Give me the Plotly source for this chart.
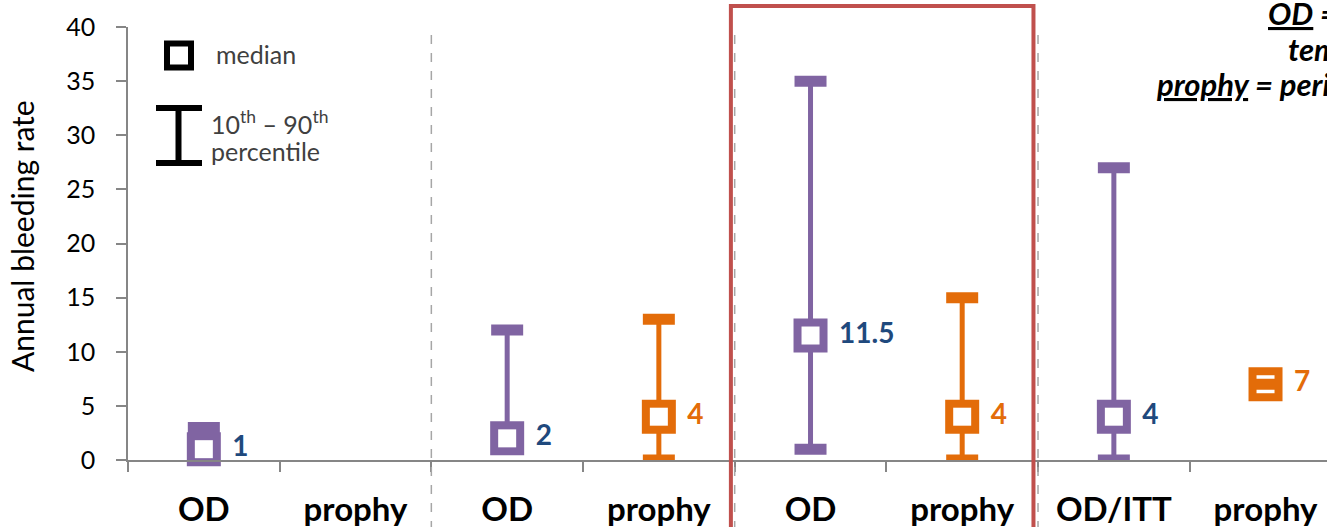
import plotly.graph_objects as go

# ---------------- data ----------------
categories = ["OD", "prophy", "OD", "prophy", "OD", "prophy", "OD/ITT", "prophy"]

od_pos = [0, 2, 4, 6]
od_median = [1, 2, 11.5, 4]
od_p10 = [0, 1, 1, 0]
od_p90 = [3, 12, 35, 27]
od_labels = ["1", "2", "11.5", "4"]

pr_pos = [3, 5, 7]
pr_median = [4, 4, 7]
pr_p10 = [0, 0, 7]
pr_p90 = [13, 15, 7]
pr_labels = ["4", "4", "7"]

y_ticks = [0, 5, 10, 15, 20, 25, 30, 35, 40]

# ---------------- style ----------------
PURPLE = "#8064A2"
ORANGE = "#E36C09"
BLUE_TXT = "#1F497D"
RED = "#C0504D"
AXIS = "#868686"
FONT = "Lato"

W, H = 1327, 527
ML, MR, MT, MB = 128, 0, 27, 67
PW = W - ML - MR
PH = H - MT - MB
CAT_PX = 151.67
CAP_HALF = 16 / CAT_PX  # half cap width in category units


def px2x(px):
    return (px - ML) / PW


def px2y(py):
    return (H - MB - py) / PH


fig = go.Figure()


def whisker_xy(pos, lo, hi):
    xs, ys = [], []
    for p, a, b in zip(pos, lo, hi):
        xs += [p, p, None]
        ys += [a, b, None]
    return xs, ys


def cap_xy(pos, vals):
    xs, ys = [], []
    for p, v in zip(pos, vals):
        xs += [p - CAP_HALF, p + CAP_HALF, None]
        ys += [v, v, None]
    return xs, ys


series = [
    (od_pos, od_median, od_p10, od_p90, od_labels, PURPLE, BLUE_TXT),
    (pr_pos, pr_median, pr_p10, pr_p90, pr_labels, ORANGE, ORANGE),
]


def add_caps(pos, vals, col):
    xs, ys = cap_xy(pos, vals)
    fig.add_trace(go.Scatter(x=xs, y=ys, mode="lines",
                             line=dict(color=col, width=11),
                             hoverinfo="skip", showlegend=False, cliponaxis=False))


# whiskers
for pos, med, lo, hi, lab, col, tcol in series:
    xs, ys = whisker_xy(pos, lo, hi)
    fig.add_trace(go.Scatter(x=xs, y=ys, mode="lines",
                             line=dict(color=col, width=5),
                             hoverinfo="skip", showlegend=False, cliponaxis=False))
# lower caps
for pos, med, lo, hi, lab, col, tcol in series:
    add_caps(pos, lo, col)
# medians (coloured frame + white interior)
for pos, med, lo, hi, lab, col, tcol in series:
    fig.add_trace(go.Scatter(x=pos, y=med, mode="markers",
                             marker=dict(symbol="square", size=34, color=col,
                                         line=dict(width=0)),
                             showlegend=False, cliponaxis=False))
    fig.add_trace(go.Scatter(x=pos, y=med, mode="markers",
                             marker=dict(symbol="square", size=18, color="white",
                                         line=dict(width=0)),
                             hoverinfo="skip", showlegend=False, cliponaxis=False))
# upper caps
for pos, med, lo, hi, lab, col, tcol in series:
    add_caps(pos, hi, col)
# value labels
for pos, med, lo, hi, lab, col, tcol in series:
    fig.add_trace(go.Scatter(x=pos, y=med, mode="markers+text", text=lab,
                             textposition="middle right",
                             textfont=dict(family=FONT, size=28, color=tcol, weight="bold"),
                             marker=dict(size=44, opacity=0),
                             hoverinfo="skip", showlegend=False, cliponaxis=False))

shapes = []
# group separators (dashed)
for b in [1.5, 3.5, 5.5]:
    shapes.append(dict(type="line", xref="x", yref="paper", x0=b, x1=b,
                       y0=px2y(35), y1=-0.3,
                       line=dict(color="#A6A6A6", width=1.5, dash="dash")))
# highlight box
shapes.append(dict(type="rect", xref="x", yref="paper", x0=3.475, x1=5.47,
                   y0=-0.3, y1=px2y(6),
                   line=dict(color=RED, width=4), fillcolor="rgba(0,0,0,0)"))
# legend key: square
shapes.append(dict(type="rect", xref="paper", yref="paper",
                   x0=px2x(167), x1=px2x(191), y0=px2y(67.5), y1=px2y(43.5),
                   line=dict(color="black", width=6), fillcolor="white"))
# legend key: I-bar
shapes.append(dict(type="line", xref="paper", yref="paper",
                   x0=px2x(178.5), x1=px2x(178.5), y0=px2y(108), y1=px2y(163),
                   line=dict(color="black", width=6)))
for yy in [108, 163]:
    shapes.append(dict(type="line", xref="paper", yref="paper",
                       x0=px2x(156), x1=px2x(202), y0=px2y(yy), y1=px2y(yy),
                       line=dict(color="black", width=6)))

TOPFONT = dict(family=FONT, size=31, color="black")
annotations = [
    dict(text="median", xref="paper", yref="paper", x=px2x(214), y=px2y(54),
         xanchor="left", yanchor="middle", showarrow=False,
         font=dict(family=FONT, size=25, color="#404040")),
    dict(text="10<sup>th</sup> – 90<sup>th</sup>", xref="paper", yref="paper",
         x=px2x(209), y=px2y(123), xanchor="left", yanchor="middle",
         showarrow=False, font=dict(family=FONT, size=25, color="#404040")),
    dict(text="percentile", xref="paper", yref="paper",
         x=px2x(209), y=px2y(151), xanchor="left", yanchor="middle",
         showarrow=False, font=dict(family=FONT, size=25, color="#404040")),
    dict(text="Annual bleeding rate", xref="paper", yref="paper", x=px2x(22), y=px2y(236),
         xanchor="center", yanchor="middle", textangle=-90, showarrow=False,
         font=dict(family=FONT, size=30, color="black")),
    dict(text="<b><i><u>OD</u> = on-demand /</i></b>", xref="paper", yref="paper",
         x=px2x(1266), y=px2y(13), xanchor="left", yanchor="middle", showarrow=False,
         font=TOPFONT),
    dict(text="<b><i>temporary prophylaxis</i></b>", xref="paper", yref="paper",
         x=px2x(1286), y=px2y(49), xanchor="left", yanchor="middle", showarrow=False,
         font=TOPFONT),
    dict(text="<b><i><u>prophy</u> = periodic prophylaxis</i></b>", xref="paper", yref="paper",
         x=px2x(1154), y=px2y(84), xanchor="left", yanchor="middle", showarrow=False,
         font=TOPFONT),
]

fig.update_layout(
    width=W, height=H,
    margin=dict(l=ML, r=MR, t=MT, b=MB, pad=0),
    paper_bgcolor="white", plot_bgcolor="white",
    showlegend=False,
    shapes=shapes,
    annotations=annotations,
    xaxis=dict(range=[-0.5, -0.5 + PW / CAT_PX],
               tickmode="array", tickvals=list(range(len(categories))),
               ticktext=categories, ticks="", showgrid=False, zeroline=False,
               showline=True, linecolor=AXIS, linewidth=1.5,
               tickfont=dict(family=FONT, size=33, color="black", weight="bold"),
               ticklabelstandoff=20,
               minor=dict(tickmode="array",
                          tickvals=[i + 0.5 for i in range(-1, len(categories))],
                          ticks="outside", ticklen=10, tickwidth=1.5, tickcolor=AXIS,
                          showgrid=False)),
    yaxis=dict(range=[0, 40], tickmode="array", tickvals=y_ticks,
               ticks="outside", ticklen=10, tickwidth=1.5, tickcolor=AXIS,
               showline=True, linecolor=AXIS, linewidth=1.5,
               showgrid=False, zeroline=False,
               tickfont=dict(family=FONT, size=25, color="black"),
               ticklabelstandoff=16),
)

fig.write_html("out.html")
